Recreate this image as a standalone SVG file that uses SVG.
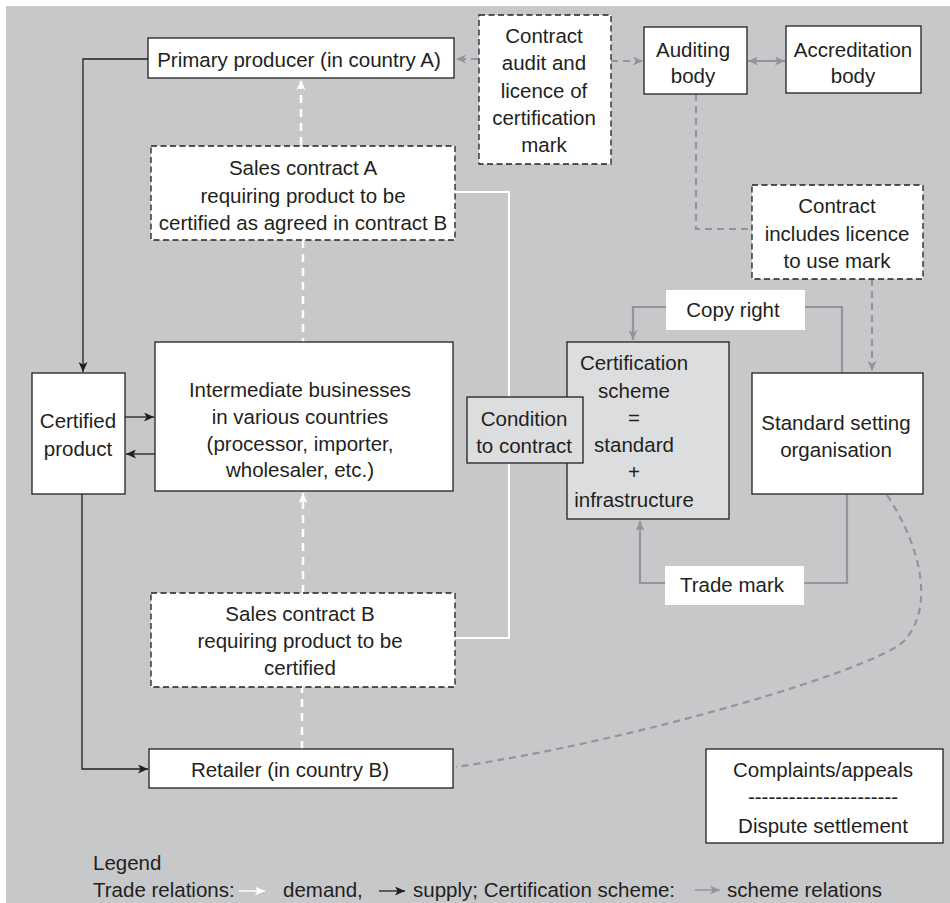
<svg xmlns="http://www.w3.org/2000/svg" width="950" height="903" viewBox="0 0 950 903">
<style>
text{font-family:"Liberation Sans",Arial,sans-serif;font-size:20.5px;fill:#231f20;text-anchor:middle}
.box{fill:#fff;stroke:#231f20;stroke-width:1.3}
.dbox{fill:#fff;stroke:#231f20;stroke-width:1.3;stroke-dasharray:6 3.5}
.gbox{fill:#dcdddf;stroke:#231f20;stroke-width:1.3}
.lbl{fill:#fff}
.sup{stroke:#231f20;stroke-width:1.3;fill:none}
.dem{stroke:#fff;stroke-width:2.5;stroke-dasharray:8 6;fill:none}
.wl{stroke:#fff;stroke-width:2;fill:none}
.sch{stroke:#939598;stroke-width:2.2;fill:none}
.schd{stroke:#939598;stroke-width:2.2;fill:none;stroke-dasharray:7 5}
.leg{text-anchor:start}
</style>
<defs>
<marker id="ab" viewBox="0 0 10 9" refX="10" refY="4.5" markerWidth="10" markerHeight="9" markerUnits="userSpaceOnUse" orient="auto"><path d="M0,0 L10,4.5 L0,9 L2.5,4.5 z" fill="#231f20"/></marker>
<marker id="aw" viewBox="0 0 10 9" refX="10" refY="4.5" markerWidth="10" markerHeight="9" markerUnits="userSpaceOnUse" orient="auto"><path d="M0,0 L10,4.5 L0,9 L2.5,4.5 z" fill="#fff"/></marker>
<marker id="ag" viewBox="0 0 10 9" refX="10" refY="4.5" markerWidth="10" markerHeight="9" markerUnits="userSpaceOnUse" orient="auto-start-reverse"><path d="M0,0 L10,4.5 L0,9 L2.5,4.5 z" fill="#939598"/></marker>
</defs>
<rect x="6" y="6" width="944" height="897" fill="#c7c8ca"/>
<g id="connectors">
<path class="wl" d="M455,192 H509 V638 H455"/>
<path class="sup" d="M148,59 H83 V372" marker-end="url(#ab)"/>
<path class="sup" d="M125,417 H154" marker-end="url(#ab)"/>
<path class="sup" d="M155,454 H126" marker-end="url(#ab)"/>
<path class="sup" d="M82,494 V769 H148" marker-end="url(#ab)"/>
<path class="dem" d="M301,145 V80" marker-end="url(#aw)"/>
<path class="dem" d="M303,240 V342"/>
<path class="dem" d="M303,593 V493" marker-end="url(#aw)"/>
<path class="dem" d="M302,749 V687"/>
<path class="schd" d="M478,59 H456" marker-end="url(#ag)"/>
<path class="schd" d="M611,61 H643" marker-end="url(#ag)"/>
<path class="sch" d="M748,61 H785" marker-start="url(#ag)" marker-end="url(#ag)"/>
<path class="schd" d="M696,94 V229 H752"/>
<path class="schd" d="M872,279 V371" marker-end="url(#ag)"/>
<path class="sch" d="M842,373 V307 H633 V340" marker-end="url(#ag)"/>
<path class="sch" d="M847,494 V583 H640 V521" marker-end="url(#ag)"/>
<path class="schd" d="M887,495 C920,545 935,605 905,640 C880,668 640,740 456,767"/>
</g>
<g id="primary-producer"><rect class="box" x="148" y="38" width="306" height="40"/><text x="299" y="67">Primary producer (in country A)</text></g>
<g id="contract-audit"><rect class="dbox" x="479" y="15" width="132" height="149"/><text x="544" y="43">Contract</text><text x="544" y="70">audit and</text><text x="544" y="98">licence of</text><text x="544" y="125">certification</text><text x="544" y="152">mark</text></g>
<g id="auditing-body"><rect class="box" x="644" y="27" width="103" height="67"/><text x="693" y="57">Auditing</text><text x="693" y="83">body</text></g>
<g id="accreditation-body"><rect class="box" x="786" y="26" width="135" height="67"/><text x="853" y="57">Accreditation</text><text x="853" y="83">body</text></g>
<g id="sales-contract-a"><rect class="dbox" x="151" y="146" width="304" height="94"/><text x="303" y="175">Sales contract A</text><text x="303" y="203">requiring product to be</text><text x="303" y="230">certified as agreed in contract B</text></g>
<g id="contract-licence"><rect class="dbox" x="752" y="185" width="171" height="94"/><text x="837" y="213">Contract</text><text x="837" y="241">includes licence</text><text x="837" y="268">to use mark</text></g>
<g id="copy-right"><rect class="lbl" x="666" y="290" width="139" height="40"/><text x="733" y="317">Copy right</text></g>
<g id="certification-scheme"><rect class="gbox" x="567" y="342" width="162" height="177"/><text x="634" y="370">Certification</text><text x="634" y="398">scheme</text><text x="634" y="425">=</text><text x="634" y="452">standard</text><text x="634" y="479">+</text><text x="634" y="507">infrastructure</text></g>
<g id="condition"><rect class="gbox" x="467" y="397" width="116" height="66"/><text x="524" y="426">Condition</text><text x="524" y="453">to contract</text></g>
<g id="standard-setting"><rect class="box" x="752" y="373" width="171" height="121"/><text x="836" y="430">Standard setting</text><text x="836" y="457">organisation</text></g>
<g id="certified-product"><rect class="box" x="32" y="373" width="93" height="121"/><text x="78" y="428">Certified</text><text x="78" y="456">product</text></g>
<g id="intermediate"><rect class="box" x="155" y="342" width="298" height="149"/><text x="300" y="397">Intermediate businesses</text><text x="300" y="424">in various countries</text><text x="300" y="451">(processor, importer,</text><text x="300" y="477">wholesaler, etc.)</text></g>
<g id="trade-mark"><rect class="lbl" x="665" y="566" width="139" height="39"/><text x="732" y="592">Trade mark</text></g>
<g id="sales-contract-b"><rect class="dbox" x="151" y="593" width="304" height="94"/><text x="300" y="621">Sales contract B</text><text x="300" y="648">requiring product to be</text><text x="300" y="675">certified</text></g>
<g id="retailer"><rect class="box" x="149" y="749" width="304" height="39"/><text x="290" y="777">Retailer (in country B)</text></g>
<g id="complaints"><rect class="box" x="706" y="749" width="237" height="94"/><text x="823" y="777">Complaints/appeals</text><text x="823" y="804">----------------------</text><text x="823" y="833">Dispute settlement</text></g>
<g id="legend">
<text class="leg" x="93" y="870">Legend</text>
<text class="leg" x="93" y="897">Trade relations:</text>
<path d="M239,891 H265" stroke="#fff" stroke-width="1.5" marker-end="url(#aw)"/>
<text class="leg" x="283" y="897">demand,</text>
<path d="M379,891 H405" stroke="#231f20" stroke-width="1.3" marker-end="url(#ab)"/>
<text class="leg" x="413" y="897">supply; Certification scheme:</text>
<path d="M695,890 H720" stroke="#939598" stroke-width="1.5" marker-end="url(#ag)"/>
<text class="leg" x="727" y="897">scheme relations</text>
</g>
</svg>
